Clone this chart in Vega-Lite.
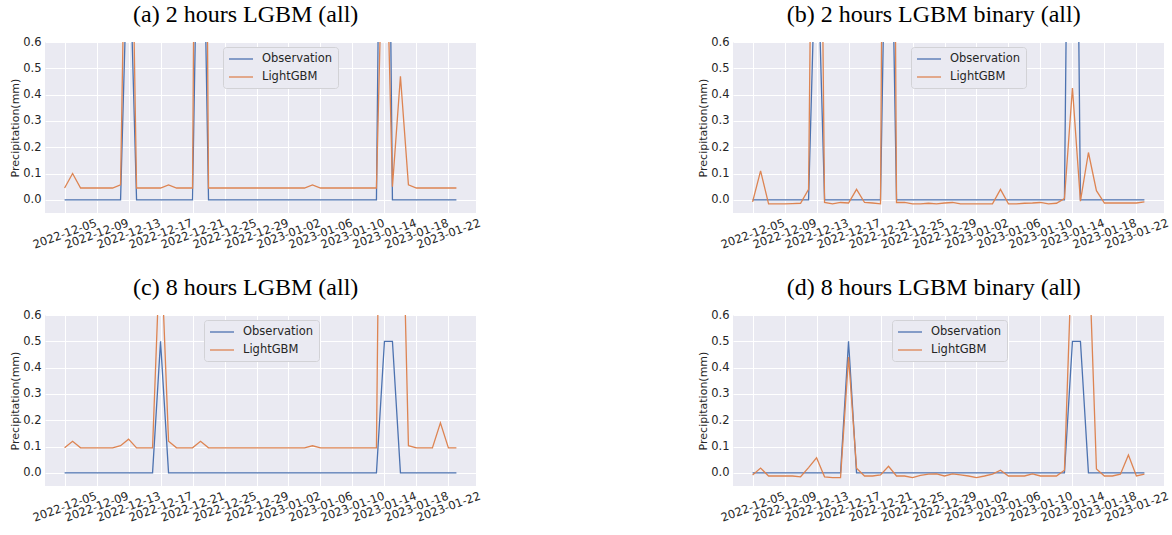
{
  "$schema": "https://vega.github.io/schema/vega-lite/v6.json",
  "background": "white",
  "padding": {"left": 9, "top": 3, "right": 0, "bottom": 0},
  "config": {
    "font": "DejaVu Sans",
    "view": {"fill": "#EAEAF2", "stroke": null},
    "axis": {"grid": true, "gridColor": "#FFFFFF", "gridWidth": 1, "domain": false, "ticks": false, "tickSize": 0, "labelFont": "DejaVu Sans", "labelFontSize": 11.5, "labelColor": "#262626", "titleFont": "DejaVu Sans", "titleFontSize": 11, "titleFontWeight": "normal", "titleColor": "#262626"},
    "axisX": {"labelAngle": -20, "labelAlign": "center", "labelBaseline": "middle", "labelPadding": 21, "labelOverlap": false, "labelBound": false, "labelFlush": false},
    "axisY": {"labelPadding": 4, "titlePadding": 2},
    "title": {"font": "Liberation Serif", "fontSize": 24, "fontWeight": "normal", "color": "#000000", "frame": "bounds", "anchor": "middle", "baseline": "alphabetic", "offset": 9},
    "legend": {"padding": 5, "fillColor": "#EAEAF2", "strokeColor": "#D2D2D6", "cornerRadius": 3, "labelFont": "DejaVu Sans", "labelFontSize": 11.5, "labelColor": "#262626", "symbolType": "M-2,0H2", "symbolSize": 144, "symbolOffset": 6, "symbolStrokeWidth": 1.3, "labelOffset": 14, "rowPadding": 5}
  },
  "datasets": {
    "a": [
      {"d":"2022-12-05","s":"Observation","v":0},{"d":"2022-12-06","s":"Observation","v":0},{"d":"2022-12-07","s":"Observation","v":0},{"d":"2022-12-08","s":"Observation","v":0},{"d":"2022-12-09","s":"Observation","v":0},{"d":"2022-12-10","s":"Observation","v":0},{"d":"2022-12-11","s":"Observation","v":0},{"d":"2022-12-12","s":"Observation","v":0},{"d":"2022-12-13","s":"Observation","v":1.1},{"d":"2022-12-14","s":"Observation","v":0},
      {"d":"2022-12-15","s":"Observation","v":0},{"d":"2022-12-16","s":"Observation","v":0},{"d":"2022-12-17","s":"Observation","v":0},{"d":"2022-12-18","s":"Observation","v":0},{"d":"2022-12-19","s":"Observation","v":0},{"d":"2022-12-20","s":"Observation","v":0},{"d":"2022-12-21","s":"Observation","v":0},{"d":"2022-12-22","s":"Observation","v":1.8},{"d":"2022-12-23","s":"Observation","v":0},{"d":"2022-12-24","s":"Observation","v":0},
      {"d":"2022-12-25","s":"Observation","v":0},{"d":"2022-12-26","s":"Observation","v":0},{"d":"2022-12-27","s":"Observation","v":0},{"d":"2022-12-28","s":"Observation","v":0},{"d":"2022-12-29","s":"Observation","v":0},{"d":"2022-12-30","s":"Observation","v":0},{"d":"2022-12-31","s":"Observation","v":0},{"d":"2023-01-01","s":"Observation","v":0},{"d":"2023-01-02","s":"Observation","v":0},{"d":"2023-01-03","s":"Observation","v":0},
      {"d":"2023-01-04","s":"Observation","v":0},{"d":"2023-01-05","s":"Observation","v":0},{"d":"2023-01-06","s":"Observation","v":0},{"d":"2023-01-07","s":"Observation","v":0},{"d":"2023-01-08","s":"Observation","v":0},{"d":"2023-01-09","s":"Observation","v":0},{"d":"2023-01-10","s":"Observation","v":0},{"d":"2023-01-11","s":"Observation","v":0},{"d":"2023-01-12","s":"Observation","v":0},{"d":"2023-01-13","s":"Observation","v":0},
      {"d":"2023-01-14","s":"Observation","v":3.0},{"d":"2023-01-15","s":"Observation","v":0},{"d":"2023-01-16","s":"Observation","v":0},{"d":"2023-01-17","s":"Observation","v":0},{"d":"2023-01-18","s":"Observation","v":0},{"d":"2023-01-19","s":"Observation","v":0},{"d":"2023-01-20","s":"Observation","v":0},{"d":"2023-01-21","s":"Observation","v":0},{"d":"2023-01-22","s":"Observation","v":0},{"d":"2023-01-23","s":"Observation","v":0},
      {"d":"2022-12-05","s":"LightGBM","v":0.045},{"d":"2022-12-06","s":"LightGBM","v":0.1},{"d":"2022-12-07","s":"LightGBM","v":0.045},{"d":"2022-12-08","s":"LightGBM","v":0.045},{"d":"2022-12-09","s":"LightGBM","v":0.045},{"d":"2022-12-10","s":"LightGBM","v":0.045},{"d":"2022-12-11","s":"LightGBM","v":0.045},{"d":"2022-12-12","s":"LightGBM","v":0.057},{"d":"2022-12-13","s":"LightGBM","v":1.9},{"d":"2022-12-14","s":"LightGBM","v":0.045},
      {"d":"2022-12-15","s":"LightGBM","v":0.045},{"d":"2022-12-16","s":"LightGBM","v":0.045},{"d":"2022-12-17","s":"LightGBM","v":0.045},{"d":"2022-12-18","s":"LightGBM","v":0.057},{"d":"2022-12-19","s":"LightGBM","v":0.045},{"d":"2022-12-20","s":"LightGBM","v":0.045},{"d":"2022-12-21","s":"LightGBM","v":0.045},{"d":"2022-12-22","s":"LightGBM","v":4.5},{"d":"2022-12-23","s":"LightGBM","v":0.045},{"d":"2022-12-24","s":"LightGBM","v":0.045},
      {"d":"2022-12-25","s":"LightGBM","v":0.045},{"d":"2022-12-26","s":"LightGBM","v":0.045},{"d":"2022-12-27","s":"LightGBM","v":0.045},{"d":"2022-12-28","s":"LightGBM","v":0.045},{"d":"2022-12-29","s":"LightGBM","v":0.045},{"d":"2022-12-30","s":"LightGBM","v":0.045},{"d":"2022-12-31","s":"LightGBM","v":0.045},{"d":"2023-01-01","s":"LightGBM","v":0.045},{"d":"2023-01-02","s":"LightGBM","v":0.045},{"d":"2023-01-03","s":"LightGBM","v":0.045},
      {"d":"2023-01-04","s":"LightGBM","v":0.045},{"d":"2023-01-05","s":"LightGBM","v":0.057},{"d":"2023-01-06","s":"LightGBM","v":0.045},{"d":"2023-01-07","s":"LightGBM","v":0.045},{"d":"2023-01-08","s":"LightGBM","v":0.045},{"d":"2023-01-09","s":"LightGBM","v":0.045},{"d":"2023-01-10","s":"LightGBM","v":0.045},{"d":"2023-01-11","s":"LightGBM","v":0.045},{"d":"2023-01-12","s":"LightGBM","v":0.045},{"d":"2023-01-13","s":"LightGBM","v":0.045},
      {"d":"2023-01-14","s":"LightGBM","v":1.3},{"d":"2023-01-15","s":"LightGBM","v":0.05},{"d":"2023-01-16","s":"LightGBM","v":0.47},{"d":"2023-01-17","s":"LightGBM","v":0.057},{"d":"2023-01-18","s":"LightGBM","v":0.045},{"d":"2023-01-19","s":"LightGBM","v":0.045},{"d":"2023-01-20","s":"LightGBM","v":0.045},{"d":"2023-01-21","s":"LightGBM","v":0.045},{"d":"2023-01-22","s":"LightGBM","v":0.045},{"d":"2023-01-23","s":"LightGBM","v":0.045}
    ],
    "b": [
      {"d":"2022-12-05","s":"Observation","v":0},{"d":"2022-12-06","s":"Observation","v":0},{"d":"2022-12-07","s":"Observation","v":0},{"d":"2022-12-08","s":"Observation","v":0},{"d":"2022-12-09","s":"Observation","v":0},{"d":"2022-12-10","s":"Observation","v":0},{"d":"2022-12-11","s":"Observation","v":0},{"d":"2022-12-12","s":"Observation","v":0},{"d":"2022-12-13","s":"Observation","v":1.1},{"d":"2022-12-14","s":"Observation","v":0},
      {"d":"2022-12-15","s":"Observation","v":0},{"d":"2022-12-16","s":"Observation","v":0},{"d":"2022-12-17","s":"Observation","v":0},{"d":"2022-12-18","s":"Observation","v":0},{"d":"2022-12-19","s":"Observation","v":0},{"d":"2022-12-20","s":"Observation","v":0},{"d":"2022-12-21","s":"Observation","v":0},{"d":"2022-12-22","s":"Observation","v":1.8},{"d":"2022-12-23","s":"Observation","v":0},{"d":"2022-12-24","s":"Observation","v":0},
      {"d":"2022-12-25","s":"Observation","v":0},{"d":"2022-12-26","s":"Observation","v":0},{"d":"2022-12-27","s":"Observation","v":0},{"d":"2022-12-28","s":"Observation","v":0},{"d":"2022-12-29","s":"Observation","v":0},{"d":"2022-12-30","s":"Observation","v":0},{"d":"2022-12-31","s":"Observation","v":0},{"d":"2023-01-01","s":"Observation","v":0},{"d":"2023-01-02","s":"Observation","v":0},{"d":"2023-01-03","s":"Observation","v":0},
      {"d":"2023-01-04","s":"Observation","v":0},{"d":"2023-01-05","s":"Observation","v":0},{"d":"2023-01-06","s":"Observation","v":0},{"d":"2023-01-07","s":"Observation","v":0},{"d":"2023-01-08","s":"Observation","v":0},{"d":"2023-01-09","s":"Observation","v":0},{"d":"2023-01-10","s":"Observation","v":0},{"d":"2023-01-11","s":"Observation","v":0},{"d":"2023-01-12","s":"Observation","v":0},{"d":"2023-01-13","s":"Observation","v":0},
      {"d":"2023-01-14","s":"Observation","v":3.0},{"d":"2023-01-15","s":"Observation","v":0},{"d":"2023-01-16","s":"Observation","v":0},{"d":"2023-01-17","s":"Observation","v":0},{"d":"2023-01-18","s":"Observation","v":0},{"d":"2023-01-19","s":"Observation","v":0},{"d":"2023-01-20","s":"Observation","v":0},{"d":"2023-01-21","s":"Observation","v":0},{"d":"2023-01-22","s":"Observation","v":0},{"d":"2023-01-23","s":"Observation","v":0},
      {"d":"2022-12-05","s":"LightGBM","v":-0.008},{"d":"2022-12-06","s":"LightGBM","v":0.11},{"d":"2022-12-07","s":"LightGBM","v":-0.015},{"d":"2022-12-08","s":"LightGBM","v":-0.015},{"d":"2022-12-09","s":"LightGBM","v":-0.015},{"d":"2022-12-10","s":"LightGBM","v":-0.014},{"d":"2022-12-11","s":"LightGBM","v":-0.013},{"d":"2022-12-12","s":"LightGBM","v":0.04},{"d":"2022-12-13","s":"LightGBM","v":3.0},{"d":"2022-12-14","s":"LightGBM","v":-0.01},
      {"d":"2022-12-15","s":"LightGBM","v":-0.015},{"d":"2022-12-16","s":"LightGBM","v":-0.01},{"d":"2022-12-17","s":"LightGBM","v":-0.012},{"d":"2022-12-18","s":"LightGBM","v":0.04},{"d":"2022-12-19","s":"LightGBM","v":-0.01},{"d":"2022-12-20","s":"LightGBM","v":-0.012},{"d":"2022-12-21","s":"LightGBM","v":-0.015},{"d":"2022-12-22","s":"LightGBM","v":5.0},{"d":"2022-12-23","s":"LightGBM","v":-0.01},{"d":"2022-12-24","s":"LightGBM","v":-0.01},
      {"d":"2022-12-25","s":"LightGBM","v":-0.015},{"d":"2022-12-26","s":"LightGBM","v":-0.015},{"d":"2022-12-27","s":"LightGBM","v":-0.013},{"d":"2022-12-28","s":"LightGBM","v":-0.015},{"d":"2022-12-29","s":"LightGBM","v":-0.012},{"d":"2022-12-30","s":"LightGBM","v":-0.01},{"d":"2022-12-31","s":"LightGBM","v":-0.015},{"d":"2023-01-01","s":"LightGBM","v":-0.015},{"d":"2023-01-02","s":"LightGBM","v":-0.015},{"d":"2023-01-03","s":"LightGBM","v":-0.015},
      {"d":"2023-01-04","s":"LightGBM","v":-0.015},{"d":"2023-01-05","s":"LightGBM","v":0.04},{"d":"2023-01-06","s":"LightGBM","v":-0.015},{"d":"2023-01-07","s":"LightGBM","v":-0.015},{"d":"2023-01-08","s":"LightGBM","v":-0.013},{"d":"2023-01-09","s":"LightGBM","v":-0.012},{"d":"2023-01-10","s":"LightGBM","v":-0.01},{"d":"2023-01-11","s":"LightGBM","v":-0.015},{"d":"2023-01-12","s":"LightGBM","v":-0.013},{"d":"2023-01-13","s":"LightGBM","v":0.005},
      {"d":"2023-01-14","s":"LightGBM","v":0.425},{"d":"2023-01-15","s":"LightGBM","v":-0.005},{"d":"2023-01-16","s":"LightGBM","v":0.18},{"d":"2023-01-17","s":"LightGBM","v":0.035},{"d":"2023-01-18","s":"LightGBM","v":-0.012},{"d":"2023-01-19","s":"LightGBM","v":-0.012},{"d":"2023-01-20","s":"LightGBM","v":-0.012},{"d":"2023-01-21","s":"LightGBM","v":-0.012},{"d":"2023-01-22","s":"LightGBM","v":-0.012},{"d":"2023-01-23","s":"LightGBM","v":-0.008}
    ],
    "c": [
      {"d":"2022-12-05","s":"Observation","v":0},{"d":"2022-12-06","s":"Observation","v":0},{"d":"2022-12-07","s":"Observation","v":0},{"d":"2022-12-08","s":"Observation","v":0},{"d":"2022-12-09","s":"Observation","v":0},{"d":"2022-12-10","s":"Observation","v":0},{"d":"2022-12-11","s":"Observation","v":0},{"d":"2022-12-12","s":"Observation","v":0},{"d":"2022-12-13","s":"Observation","v":0},{"d":"2022-12-14","s":"Observation","v":0},
      {"d":"2022-12-15","s":"Observation","v":0},{"d":"2022-12-16","s":"Observation","v":0},{"d":"2022-12-17","s":"Observation","v":0.5},{"d":"2022-12-18","s":"Observation","v":0},{"d":"2022-12-19","s":"Observation","v":0},{"d":"2022-12-20","s":"Observation","v":0},{"d":"2022-12-21","s":"Observation","v":0},{"d":"2022-12-22","s":"Observation","v":0},{"d":"2022-12-23","s":"Observation","v":0},{"d":"2022-12-24","s":"Observation","v":0},
      {"d":"2022-12-25","s":"Observation","v":0},{"d":"2022-12-26","s":"Observation","v":0},{"d":"2022-12-27","s":"Observation","v":0},{"d":"2022-12-28","s":"Observation","v":0},{"d":"2022-12-29","s":"Observation","v":0},{"d":"2022-12-30","s":"Observation","v":0},{"d":"2022-12-31","s":"Observation","v":0},{"d":"2023-01-01","s":"Observation","v":0},{"d":"2023-01-02","s":"Observation","v":0},{"d":"2023-01-03","s":"Observation","v":0},
      {"d":"2023-01-04","s":"Observation","v":0},{"d":"2023-01-05","s":"Observation","v":0},{"d":"2023-01-06","s":"Observation","v":0},{"d":"2023-01-07","s":"Observation","v":0},{"d":"2023-01-08","s":"Observation","v":0},{"d":"2023-01-09","s":"Observation","v":0},{"d":"2023-01-10","s":"Observation","v":0},{"d":"2023-01-11","s":"Observation","v":0},{"d":"2023-01-12","s":"Observation","v":0},{"d":"2023-01-13","s":"Observation","v":0},
      {"d":"2023-01-14","s":"Observation","v":0.5},{"d":"2023-01-15","s":"Observation","v":0.5},{"d":"2023-01-16","s":"Observation","v":0},{"d":"2023-01-17","s":"Observation","v":0},{"d":"2023-01-18","s":"Observation","v":0},{"d":"2023-01-19","s":"Observation","v":0},{"d":"2023-01-20","s":"Observation","v":0},{"d":"2023-01-21","s":"Observation","v":0},{"d":"2023-01-22","s":"Observation","v":0},{"d":"2023-01-23","s":"Observation","v":0},
      {"d":"2022-12-05","s":"LightGBM","v":0.095},{"d":"2022-12-06","s":"LightGBM","v":0.12},{"d":"2022-12-07","s":"LightGBM","v":0.095},{"d":"2022-12-08","s":"LightGBM","v":0.095},{"d":"2022-12-09","s":"LightGBM","v":0.095},{"d":"2022-12-10","s":"LightGBM","v":0.095},{"d":"2022-12-11","s":"LightGBM","v":0.095},{"d":"2022-12-12","s":"LightGBM","v":0.103},{"d":"2022-12-13","s":"LightGBM","v":0.128},{"d":"2022-12-14","s":"LightGBM","v":0.095},
      {"d":"2022-12-15","s":"LightGBM","v":0.095},{"d":"2022-12-16","s":"LightGBM","v":0.095},{"d":"2022-12-17","s":"LightGBM","v":0.9},{"d":"2022-12-18","s":"LightGBM","v":0.12},{"d":"2022-12-19","s":"LightGBM","v":0.095},{"d":"2022-12-20","s":"LightGBM","v":0.095},{"d":"2022-12-21","s":"LightGBM","v":0.095},{"d":"2022-12-22","s":"LightGBM","v":0.12},{"d":"2022-12-23","s":"LightGBM","v":0.095},{"d":"2022-12-24","s":"LightGBM","v":0.095},
      {"d":"2022-12-25","s":"LightGBM","v":0.095},{"d":"2022-12-26","s":"LightGBM","v":0.095},{"d":"2022-12-27","s":"LightGBM","v":0.095},{"d":"2022-12-28","s":"LightGBM","v":0.095},{"d":"2022-12-29","s":"LightGBM","v":0.095},{"d":"2022-12-30","s":"LightGBM","v":0.095},{"d":"2022-12-31","s":"LightGBM","v":0.095},{"d":"2023-01-01","s":"LightGBM","v":0.095},{"d":"2023-01-02","s":"LightGBM","v":0.095},{"d":"2023-01-03","s":"LightGBM","v":0.095},
      {"d":"2023-01-04","s":"LightGBM","v":0.095},{"d":"2023-01-05","s":"LightGBM","v":0.103},{"d":"2023-01-06","s":"LightGBM","v":0.095},{"d":"2023-01-07","s":"LightGBM","v":0.095},{"d":"2023-01-08","s":"LightGBM","v":0.095},{"d":"2023-01-09","s":"LightGBM","v":0.095},{"d":"2023-01-10","s":"LightGBM","v":0.095},{"d":"2023-01-11","s":"LightGBM","v":0.095},{"d":"2023-01-12","s":"LightGBM","v":0.095},{"d":"2023-01-13","s":"LightGBM","v":0.095},
      {"d":"2023-01-14","s":"LightGBM","v":3.0},{"d":"2023-01-15","s":"LightGBM","v":2.5},{"d":"2023-01-16","s":"LightGBM","v":1.4},{"d":"2023-01-17","s":"LightGBM","v":0.103},{"d":"2023-01-18","s":"LightGBM","v":0.095},{"d":"2023-01-19","s":"LightGBM","v":0.095},{"d":"2023-01-20","s":"LightGBM","v":0.095},{"d":"2023-01-21","s":"LightGBM","v":0.19},{"d":"2023-01-22","s":"LightGBM","v":0.095},{"d":"2023-01-23","s":"LightGBM","v":0.095}
    ],
    "dd": [
      {"d":"2022-12-05","s":"Observation","v":0},{"d":"2022-12-06","s":"Observation","v":0},{"d":"2022-12-07","s":"Observation","v":0},{"d":"2022-12-08","s":"Observation","v":0},{"d":"2022-12-09","s":"Observation","v":0},{"d":"2022-12-10","s":"Observation","v":0},{"d":"2022-12-11","s":"Observation","v":0},{"d":"2022-12-12","s":"Observation","v":0},{"d":"2022-12-13","s":"Observation","v":0},{"d":"2022-12-14","s":"Observation","v":0},
      {"d":"2022-12-15","s":"Observation","v":0},{"d":"2022-12-16","s":"Observation","v":0},{"d":"2022-12-17","s":"Observation","v":0.5},{"d":"2022-12-18","s":"Observation","v":0},{"d":"2022-12-19","s":"Observation","v":0},{"d":"2022-12-20","s":"Observation","v":0},{"d":"2022-12-21","s":"Observation","v":0},{"d":"2022-12-22","s":"Observation","v":0},{"d":"2022-12-23","s":"Observation","v":0},{"d":"2022-12-24","s":"Observation","v":0},
      {"d":"2022-12-25","s":"Observation","v":0},{"d":"2022-12-26","s":"Observation","v":0},{"d":"2022-12-27","s":"Observation","v":0},{"d":"2022-12-28","s":"Observation","v":0},{"d":"2022-12-29","s":"Observation","v":0},{"d":"2022-12-30","s":"Observation","v":0},{"d":"2022-12-31","s":"Observation","v":0},{"d":"2023-01-01","s":"Observation","v":0},{"d":"2023-01-02","s":"Observation","v":0},{"d":"2023-01-03","s":"Observation","v":0},
      {"d":"2023-01-04","s":"Observation","v":0},{"d":"2023-01-05","s":"Observation","v":0},{"d":"2023-01-06","s":"Observation","v":0},{"d":"2023-01-07","s":"Observation","v":0},{"d":"2023-01-08","s":"Observation","v":0},{"d":"2023-01-09","s":"Observation","v":0},{"d":"2023-01-10","s":"Observation","v":0},{"d":"2023-01-11","s":"Observation","v":0},{"d":"2023-01-12","s":"Observation","v":0},{"d":"2023-01-13","s":"Observation","v":0},
      {"d":"2023-01-14","s":"Observation","v":0.5},{"d":"2023-01-15","s":"Observation","v":0.5},{"d":"2023-01-16","s":"Observation","v":0},{"d":"2023-01-17","s":"Observation","v":0},{"d":"2023-01-18","s":"Observation","v":0},{"d":"2023-01-19","s":"Observation","v":0},{"d":"2023-01-20","s":"Observation","v":0},{"d":"2023-01-21","s":"Observation","v":0},{"d":"2023-01-22","s":"Observation","v":0},{"d":"2023-01-23","s":"Observation","v":0},
      {"d":"2022-12-05","s":"LightGBM","v":-0.008},{"d":"2022-12-06","s":"LightGBM","v":0.018},{"d":"2022-12-07","s":"LightGBM","v":-0.012},{"d":"2022-12-08","s":"LightGBM","v":-0.012},{"d":"2022-12-09","s":"LightGBM","v":-0.012},{"d":"2022-12-10","s":"LightGBM","v":-0.012},{"d":"2022-12-11","s":"LightGBM","v":-0.015},{"d":"2022-12-12","s":"LightGBM","v":0.02},{"d":"2022-12-13","s":"LightGBM","v":0.057},{"d":"2022-12-14","s":"LightGBM","v":-0.015},
      {"d":"2022-12-15","s":"LightGBM","v":-0.018},{"d":"2022-12-16","s":"LightGBM","v":-0.018},{"d":"2022-12-17","s":"LightGBM","v":0.44},{"d":"2022-12-18","s":"LightGBM","v":0.018},{"d":"2022-12-19","s":"LightGBM","v":-0.012},{"d":"2022-12-20","s":"LightGBM","v":-0.012},{"d":"2022-12-21","s":"LightGBM","v":-0.008},{"d":"2022-12-22","s":"LightGBM","v":0.025},{"d":"2022-12-23","s":"LightGBM","v":-0.012},{"d":"2022-12-24","s":"LightGBM","v":-0.012},
      {"d":"2022-12-25","s":"LightGBM","v":-0.018},{"d":"2022-12-26","s":"LightGBM","v":-0.01},{"d":"2022-12-27","s":"LightGBM","v":-0.005},{"d":"2022-12-28","s":"LightGBM","v":-0.004},{"d":"2022-12-29","s":"LightGBM","v":-0.012},{"d":"2022-12-30","s":"LightGBM","v":-0.004},{"d":"2022-12-31","s":"LightGBM","v":-0.008},{"d":"2023-01-01","s":"LightGBM","v":-0.012},{"d":"2023-01-02","s":"LightGBM","v":-0.018},{"d":"2023-01-03","s":"LightGBM","v":-0.012},
      {"d":"2023-01-04","s":"LightGBM","v":-0.005},{"d":"2023-01-05","s":"LightGBM","v":0.01},{"d":"2023-01-06","s":"LightGBM","v":-0.012},{"d":"2023-01-07","s":"LightGBM","v":-0.012},{"d":"2023-01-08","s":"LightGBM","v":-0.012},{"d":"2023-01-09","s":"LightGBM","v":-0.004},{"d":"2023-01-10","s":"LightGBM","v":-0.012},{"d":"2023-01-11","s":"LightGBM","v":-0.012},{"d":"2023-01-12","s":"LightGBM","v":-0.012},{"d":"2023-01-13","s":"LightGBM","v":0.01},
      {"d":"2023-01-14","s":"LightGBM","v":0.9},{"d":"2023-01-15","s":"LightGBM","v":1.3},{"d":"2023-01-16","s":"LightGBM","v":0.9},{"d":"2023-01-17","s":"LightGBM","v":0.015},{"d":"2023-01-18","s":"LightGBM","v":-0.012},{"d":"2023-01-19","s":"LightGBM","v":-0.012},{"d":"2023-01-20","s":"LightGBM","v":-0.005},{"d":"2023-01-21","s":"LightGBM","v":0.068},{"d":"2023-01-22","s":"LightGBM","v":-0.012},{"d":"2023-01-23","s":"LightGBM","v":-0.005}
    ]
  },
  "resolve": {"scale": {"color": "independent"}, "legend": {"color": "independent"}},
  "spacing": 25,
  "vconcat": [
    {
      "spacing": 215,
      "resolve": {"scale": {"color": "independent"}, "legend": {"color": "independent"}},
      "hconcat": [
        {
          "width": 431, "height": 171,
          "title": "(a) 2 hours LGBM (all)",
          "data": {"name": "a"},
          "mark": {"type": "line", "clip": true, "strokeWidth": 1.3},
          "encoding": {
            "x": {"field": "d", "type": "temporal", "scale": {"type": "utc", "domain": [{"year": 2022, "month": 12, "date": 2, "hours": 13, "minutes": 12, "utc": true}, {"year": 2023, "month": 1, "date": 25, "hours": 10, "minutes": 48, "utc": true}]},
              "axis": {"title": null, "format": "%Y-%m-%d", "values": [{"year":2022,"month":12,"date":5,"utc":true},{"year":2022,"month":12,"date":9,"utc":true},{"year":2022,"month":12,"date":13,"utc":true},{"year":2022,"month":12,"date":17,"utc":true},{"year":2022,"month":12,"date":21,"utc":true},{"year":2022,"month":12,"date":25,"utc":true},{"year":2022,"month":12,"date":29,"utc":true},{"year":2023,"month":1,"date":2,"utc":true},{"year":2023,"month":1,"date":6,"utc":true},{"year":2023,"month":1,"date":10,"utc":true},{"year":2023,"month":1,"date":14,"utc":true},{"year":2023,"month":1,"date":18,"utc":true},{"year":2023,"month":1,"date":22,"utc":true}]}},
            "y": {"field": "v", "type": "quantitative", "scale": {"domain": [-0.05, 0.6], "nice": false, "zero": false}, "axis": {"title": "Precipitation(mm)", "values": [0, 0.1, 0.2, 0.3, 0.4, 0.5, 0.6], "format": ".1f"}},
            "color": {"field": "s", "type": "nominal", "scale": {"domain": ["Observation", "LightGBM"], "range": ["#4C72B0", "#DD8452"]}, "legend": {"title": null, "orient": "none", "legendX": 178, "legendY": 5}}
          }
        },
        {
          "width": 431, "height": 171,
          "title": "(b) 2 hours LGBM binary (all)",
          "data": {"name": "b"},
          "mark": {"type": "line", "clip": true, "strokeWidth": 1.3},
          "encoding": {
            "x": {"field": "d", "type": "temporal", "scale": {"type": "utc", "domain": [{"year": 2022, "month": 12, "date": 2, "hours": 13, "minutes": 12, "utc": true}, {"year": 2023, "month": 1, "date": 25, "hours": 10, "minutes": 48, "utc": true}]},
              "axis": {"title": null, "format": "%Y-%m-%d", "values": [{"year":2022,"month":12,"date":5,"utc":true},{"year":2022,"month":12,"date":9,"utc":true},{"year":2022,"month":12,"date":13,"utc":true},{"year":2022,"month":12,"date":17,"utc":true},{"year":2022,"month":12,"date":21,"utc":true},{"year":2022,"month":12,"date":25,"utc":true},{"year":2022,"month":12,"date":29,"utc":true},{"year":2023,"month":1,"date":2,"utc":true},{"year":2023,"month":1,"date":6,"utc":true},{"year":2023,"month":1,"date":10,"utc":true},{"year":2023,"month":1,"date":14,"utc":true},{"year":2023,"month":1,"date":18,"utc":true},{"year":2023,"month":1,"date":22,"utc":true}]}},
            "y": {"field": "v", "type": "quantitative", "scale": {"domain": [-0.05, 0.6], "nice": false, "zero": false}, "axis": {"title": "Precipitation(mm)", "values": [0, 0.1, 0.2, 0.3, 0.4, 0.5, 0.6], "format": ".1f"}},
            "color": {"field": "s", "type": "nominal", "scale": {"domain": ["Observation", "LightGBM"], "range": ["#4C72B0", "#DD8452"]}, "legend": {"title": null, "orient": "none", "legendX": 178, "legendY": 5}}
          }
        }
      ]
    },
    {
      "spacing": 215,
      "resolve": {"scale": {"color": "independent"}, "legend": {"color": "independent"}},
      "hconcat": [
        {
          "width": 431, "height": 171,
          "title": "(c) 8 hours LGBM (all)",
          "data": {"name": "c"},
          "mark": {"type": "line", "clip": true, "strokeWidth": 1.3},
          "encoding": {
            "x": {"field": "d", "type": "temporal", "scale": {"type": "utc", "domain": [{"year": 2022, "month": 12, "date": 2, "hours": 13, "minutes": 12, "utc": true}, {"year": 2023, "month": 1, "date": 25, "hours": 10, "minutes": 48, "utc": true}]},
              "axis": {"title": null, "format": "%Y-%m-%d", "values": [{"year":2022,"month":12,"date":5,"utc":true},{"year":2022,"month":12,"date":9,"utc":true},{"year":2022,"month":12,"date":13,"utc":true},{"year":2022,"month":12,"date":17,"utc":true},{"year":2022,"month":12,"date":21,"utc":true},{"year":2022,"month":12,"date":25,"utc":true},{"year":2022,"month":12,"date":29,"utc":true},{"year":2023,"month":1,"date":2,"utc":true},{"year":2023,"month":1,"date":6,"utc":true},{"year":2023,"month":1,"date":10,"utc":true},{"year":2023,"month":1,"date":14,"utc":true},{"year":2023,"month":1,"date":18,"utc":true},{"year":2023,"month":1,"date":22,"utc":true}]}},
            "y": {"field": "v", "type": "quantitative", "scale": {"domain": [-0.05, 0.6], "nice": false, "zero": false}, "axis": {"title": "Precipitation(mm)", "values": [0, 0.1, 0.2, 0.3, 0.4, 0.5, 0.6], "format": ".1f"}},
            "color": {"field": "s", "type": "nominal", "scale": {"domain": ["Observation", "LightGBM"], "range": ["#4C72B0", "#DD8452"]}, "legend": {"title": null, "orient": "none", "legendX": 159, "legendY": 5}}
          }
        },
        {
          "width": 431, "height": 171,
          "title": "(d) 8 hours LGBM binary (all)",
          "data": {"name": "dd"},
          "mark": {"type": "line", "clip": true, "strokeWidth": 1.3},
          "encoding": {
            "x": {"field": "d", "type": "temporal", "scale": {"type": "utc", "domain": [{"year": 2022, "month": 12, "date": 2, "hours": 13, "minutes": 12, "utc": true}, {"year": 2023, "month": 1, "date": 25, "hours": 10, "minutes": 48, "utc": true}]},
              "axis": {"title": null, "format": "%Y-%m-%d", "values": [{"year":2022,"month":12,"date":5,"utc":true},{"year":2022,"month":12,"date":9,"utc":true},{"year":2022,"month":12,"date":13,"utc":true},{"year":2022,"month":12,"date":17,"utc":true},{"year":2022,"month":12,"date":21,"utc":true},{"year":2022,"month":12,"date":25,"utc":true},{"year":2022,"month":12,"date":29,"utc":true},{"year":2023,"month":1,"date":2,"utc":true},{"year":2023,"month":1,"date":6,"utc":true},{"year":2023,"month":1,"date":10,"utc":true},{"year":2023,"month":1,"date":14,"utc":true},{"year":2023,"month":1,"date":18,"utc":true},{"year":2023,"month":1,"date":22,"utc":true}]}},
            "y": {"field": "v", "type": "quantitative", "scale": {"domain": [-0.05, 0.6], "nice": false, "zero": false}, "axis": {"title": "Precipitation(mm)", "values": [0, 0.1, 0.2, 0.3, 0.4, 0.5, 0.6], "format": ".1f"}},
            "color": {"field": "s", "type": "nominal", "scale": {"domain": ["Observation", "LightGBM"], "range": ["#4C72B0", "#DD8452"]}, "legend": {"title": null, "orient": "none", "legendX": 159, "legendY": 5}}
          }
        }
      ]
    }
  ]
}
